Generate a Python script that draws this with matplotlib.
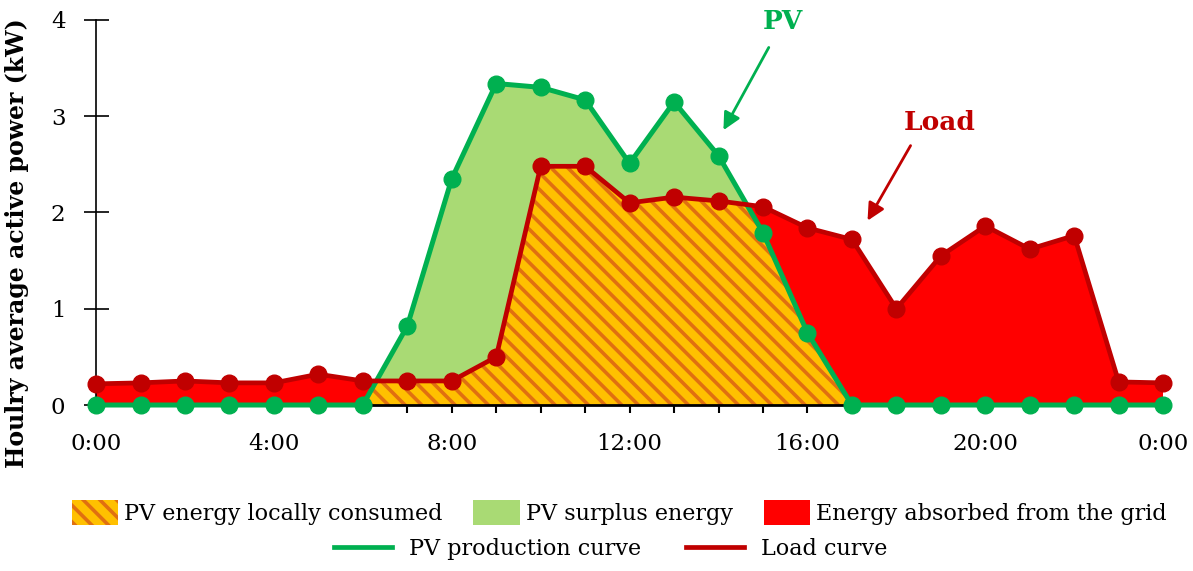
import numpy as np
import matplotlib
matplotlib.use("Agg")
import matplotlib.pyplot as plt
from matplotlib.patches import Patch
from matplotlib.lines import Line2D

# hourly values (kW), 0:00 .. 24:00
hours = list(range(25))
pv = [0, 0, 0, 0, 0, 0, 0, 0.82, 2.35, 3.34, 3.30, 3.17, 2.51, 3.15, 2.59,
      1.79, 0.75, 0, 0, 0, 0, 0, 0, 0, 0]
load = [0.22, 0.23, 0.25, 0.23, 0.23, 0.32, 0.25, 0.25, 0.25, 0.50, 2.48,
        2.48, 2.10, 2.16, 2.12, 2.06, 1.84, 1.72, 1.00, 1.55, 1.86, 1.62,
        1.76, 0.24, 0.23]
tick_hours = [0, 4, 8, 12, 16, 20, 24]
tick_labels = ["0:00", "4:00", "8:00", "12:00", "16:00", "20:00", "0:00"]

GREEN = "#00B050"
LIGHT_GREEN = "#A9DA74"
RED = "#FF0000"
DARK_RED = "#C00000"
ORANGE = "#FFC000"
STRIPE = "#E07010"

plt.rcParams["font.family"] = ["DejaVu Serif"]
plt.rcParams["font.size"] = 16.5
plt.rcParams["hatch.linewidth"] = 2.6

x = np.array(hours, dtype=float)
pv = np.array(pv)
load = np.array(load)

# add the points where the two curves cross, so the areas meet cleanly
xs, p_s, l_s = [x[0]], [pv[0]], [load[0]]
for i in range(len(x) - 1):
    d0, d1 = pv[i] - load[i], pv[i + 1] - load[i + 1]
    if d0 * d1 < 0:
        t = d0 / (d0 - d1)
        xs.append(x[i] + t)
        p_s.append(pv[i] + t * (pv[i + 1] - pv[i]))
        l_s.append(load[i] + t * (load[i + 1] - load[i]))
    xs.append(x[i + 1])
    p_s.append(pv[i + 1])
    l_s.append(load[i + 1])
xs, p_s, l_s = np.array(xs), np.array(p_s), np.array(l_s)
both = np.minimum(p_s, l_s)

fig = plt.figure(figsize=(11.93, 5.71), dpi=100)
ax = fig.add_axes([0.0805, 0.2907, 0.8945, 0.6743])

# areas
ax.fill_between(xs, 0, both, facecolor=ORANGE, edgecolor=STRIPE, hatch="\\\\",
                linewidth=0, zorder=1)
ax.fill_between(xs, both, p_s, facecolor=LIGHT_GREEN, linewidth=0, zorder=1)
ax.fill_between(xs, both, l_s, facecolor=RED, linewidth=0, zorder=1)

# curves
ax.plot(x, pv, color=GREEN, lw=3.6, marker="o", ms=12, clip_on=False, zorder=3)
ax.plot(x, load, color=DARK_RED, lw=3.4, marker="o", ms=12, clip_on=False, zorder=4)

# annotations
ax.annotate("", xy=(14.08, 2.83), xytext=(15.16, 3.74),
            arrowprops=dict(arrowstyle="-|>", color=GREEN, lw=2, mutation_scale=26))
ax.text(15.45, 3.98, "PV", color=GREEN, fontweight="bold", ha="center", va="center",
        fontsize=19)
ax.annotate("", xy=(17.32, 1.89), xytext=(18.35, 2.72),
            arrowprops=dict(arrowstyle="-|>", color=DARK_RED, lw=2, mutation_scale=26))
ax.text(18.98, 2.93, "Load", color=DARK_RED, fontweight="bold", ha="center",
        va="center", fontsize=19)

# axes styling
ax.set_xlim(0, 24)
ax.set_ylim(0, 4)
for s in ["top", "right"]:
    ax.spines[s].set_visible(False)
ax.spines["left"].set_linewidth(1.2)
ax.spines["bottom"].set_linewidth(2)
ax.set_xticks(tick_hours)
ax.set_xticklabels(tick_labels)
ax.set_xticks(hours, minor=True)
ax.tick_params(axis="x", which="both", direction="out", length=6, width=1.5, pad=14)
ax.set_yticks([0, 1, 2, 3, 4])
ax.tick_params(axis="y", direction="inout", length=18, width=1.2, pad=13)
ax.set_ylabel("Houlry average active power (kW)", fontweight="bold", fontsize=17)
ax.yaxis.set_label_coords(-0.063, 0.42)

# legend, two rows
row1 = [Patch(facecolor=ORANGE, edgecolor=STRIPE, hatch="\\\\", linewidth=0),
        Patch(facecolor=LIGHT_GREEN, linewidth=0),
        Patch(facecolor=RED, linewidth=0)]
fig.legend(row1, ["PV energy locally consumed", "PV surplus energy",
                  "Energy absorbed from the grid"],
           loc="center", bbox_to_anchor=(0.519, 0.102), ncol=3, frameon=False,
           handlelength=2.1, handleheight=1.3, handletextpad=0.25,
           columnspacing=1.4, fontsize=16)
row2 = [Line2D([], [], color=GREEN, lw=3.4), Line2D([], [], color=DARK_RED, lw=3.4)]
fig.legend(row2, ["PV production curve", "Load curve"], loc="center",
           bbox_to_anchor=(0.512, 0.039), ncol=2, frameon=False, handlelength=2.6,
           handletextpad=0.8, columnspacing=2.0, fontsize=16)

fig.savefig("out.png", dpi=100)
